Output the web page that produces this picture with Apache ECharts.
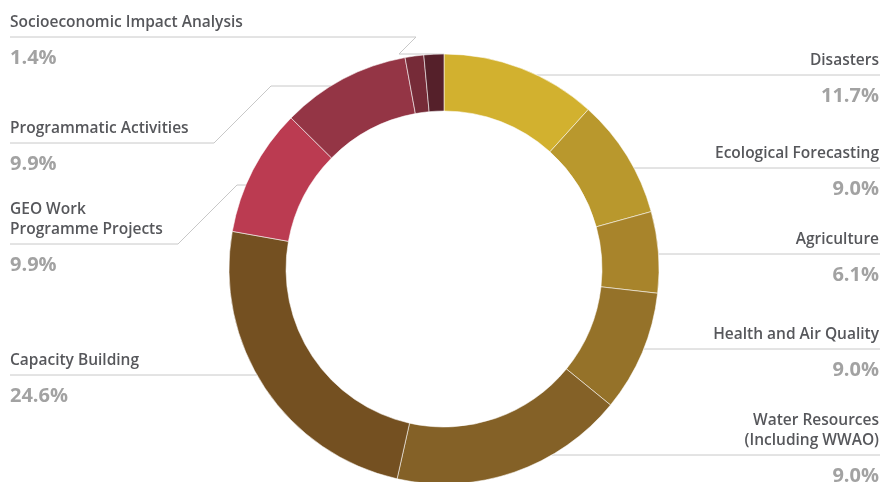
<!DOCTYPE html>
<html>
<head>
<meta charset="utf-8">
<script src="https://cdn.jsdelivr.net/npm/echarts@6/dist/echarts.min.js"></script>
<style>
    html, body { margin: 0; padding: 0; background: #fff; }
    #chart { width: 881px; height: 482px; }
</style>
</head>
<body>
<div id="chart"></div>
<script>
    // slices, clockwise from 12 o'clock
    const categories = [
        'Disasters',
        'Ecological Forecasting',
        'Agriculture',
        'Health and Air Quality',
        'Water Resources\n(Including WWAO)',
        'Capacity Building',
        'GEO Work\nProgramme Projects',
        'Programmatic Activities',
        '',
        'Socioeconomic Impact Analysis'
    ]
    // size of each arc as drawn on the ring (%)
    const arcShares = [11.7, 9.0, 6.1, 9.1, 17.6, 24.3, 9.6, 9.7, 1.4, 1.5]
    // percentage printed beside each slice
    const printedPct = ['11.7%', '9.0%', '6.1%', '9.0%', '9.0%', '24.6%', '9.9%', '9.9%', '', '1.4%']

    const sliceColors = ['#d2b12f', '#b9982d', '#a8842b', '#957229', '#846127',
        '#745021', '#bb3b51', '#943545', '#762b38', '#55202a']

    const CX = 444, CY = 269, R_IN = 158, R_OUT = 215
    const LEFT_X = 10, RIGHT_X = 879

    // where each label sits: y of its guide line, and the elbow for the left ones
    const guides = [
        {side: 'right', y: 75},
        {side: 'right', y: 168},
        {side: 'right', y: 254},
        {side: 'right', y: 349},
        {side: 'right', y: 455},
        {side: 'left', y: 375},
        {side: 'left', y: 244, bendX: 178, ringY: 185},
        {side: 'left', y: 143, bendX: 214, ringY: 86},
        null,
        {side: 'left', y: 37, bendX: 416, ringY: 54}
    ]

    function ringHalfWidth(y) {
        return Math.sqrt(Math.max(0, R_OUT * R_OUT - (y - CY) * (y - CY)))
    }

    function guidePoints(g) {
        if (g.side === 'right') {
            return [[CX + ringHalfWidth(g.y), g.y], [RIGHT_X + 1, g.y]]
        }
        if (g.bendX == null) {
            return [[CX - ringHalfWidth(g.y), g.y], [LEFT_X, g.y]]
        }
        const d = g.y - g.ringY
        const ringX = CX - ringHalfWidth(g.ringY)
        const diagEnd = [g.bendX + d, g.ringY]
        const pts = ringX > diagEnd[0] ? [[ringX, g.ringY], diagEnd] : [diagEnd]
        return pts.concat([[g.bendX, g.y], [LEFT_X, g.y]])
    }

    const sliceData = categories.map((name, i) => ({
        name: name,
        value: arcShares[i],
        itemStyle: {color: sliceColors[i]},
        label: {show: guides[i] != null},
        labelLine: {show: guides[i] != null}
    }))

    const chart = echarts.init(document.getElementById('chart'))
    chart.setOption({
        animation: false,
        series: [
            {
                // ring + names + guide lines
                type: 'pie',
                center: [CX, CY],
                radius: [R_IN, R_OUT],
                startAngle: 90,
                silent: true,
                avoidLabelOverlap: false,
                itemStyle: {borderColor: 'rgba(255,255,255,0.55)', borderWidth: 1},
                label: {
                    position: 'outside',
                    formatter: '{b}',
                    fontFamily: 'Open Sans',
                    fontWeight: 600,
                    fontSize: 15.5,
                    lineHeight: 20,
                    color: '#56575b'
                },
                labelLine: {
                    show: true,
                    lineStyle: {color: '#c8c8c8', width: 1}
                },
                labelLayout(params) {
                    const g = guides[params.dataIndex]
                    if (!g) return {}
                    return {
                        x: g.side === 'right' ? RIGHT_X : LEFT_X,
                        y: g.y - 4,
                        align: g.side,
                        verticalAlign: 'bottom',
                        labelLinePoints: guidePoints(g)
                    }
                },
                data: sliceData
            },
            {
                // invisible copy that only carries the percentages
                type: 'pie',
                center: [CX, CY],
                radius: [R_IN, R_OUT],
                startAngle: 90,
                silent: true,
                avoidLabelOverlap: false,
                itemStyle: {color: 'rgba(0,0,0,0)'},
                label: {
                    position: 'outside',
                    formatter: p => printedPct[p.dataIndex],
                    fontFamily: 'Open Sans',
                    fontWeight: 'bold',
                    fontSize: 20,
                    lineHeight: 24,
                    color: '#a2a2a2'
                },
                labelLine: {show: false},
                labelLayout(params) {
                    const g = guides[params.dataIndex]
                    if (!g) return {}
                    return {
                        x: g.side === 'right' ? RIGHT_X : LEFT_X,
                        y: g.y + 9,
                        align: g.side,
                        verticalAlign: 'top'
                    }
                },
                data: categories.map((name, i) => ({
                    name: name,
                    value: arcShares[i],
                    label: {show: guides[i] != null},
                    labelLine: {show: false}
                }))
            }
        ]
    })
    window.addEventListener('resize', () => chart.resize())
</script>
</body>
</html>
